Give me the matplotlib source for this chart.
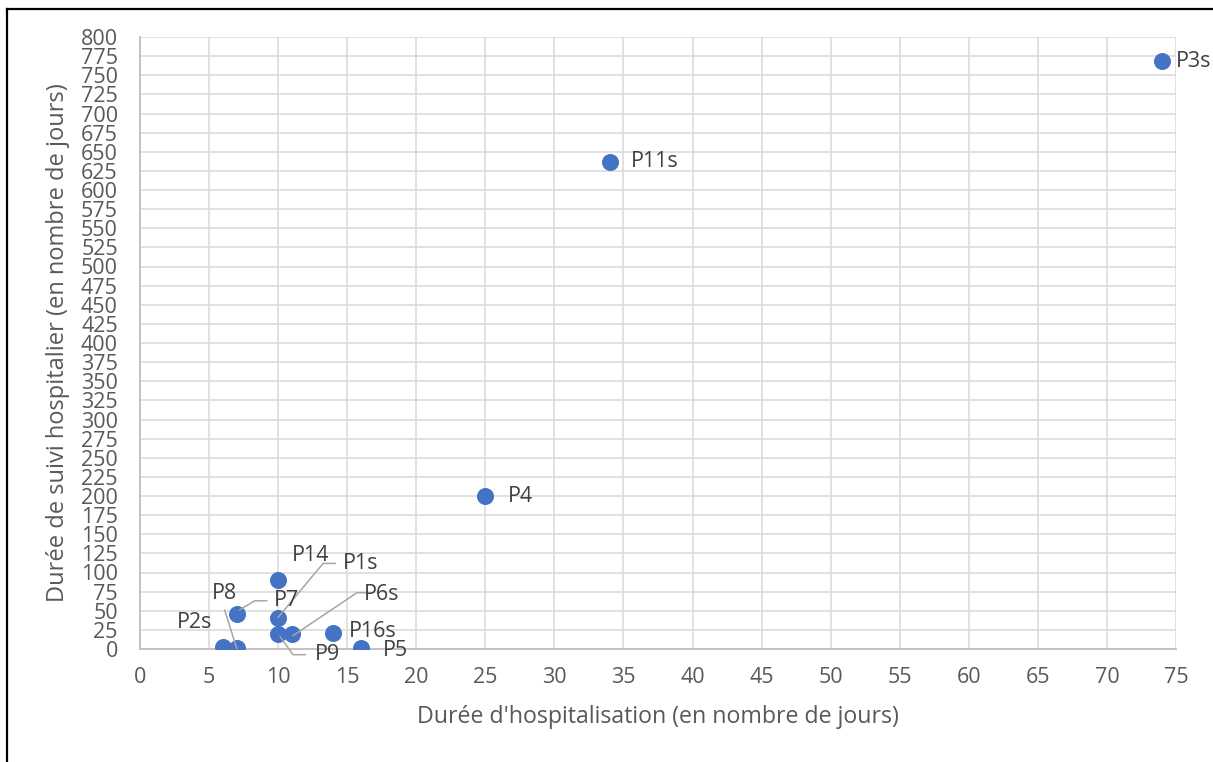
import numpy as np
import matplotlib.pyplot as plt
from matplotlib.transforms import IdentityTransform

plt.rcParams['font.family'] = ['Open Sans', 'DejaVu Sans']

# patients: hospital stay (days) vs follow-up duration (days)
patients = ['P3s', 'P11s', 'P4', 'P14', 'P1s', 'P7', 'P8', 'P2s',
            'P6s', 'P9', 'P16s', 'P5']
stay_days = [74, 34, 25, 10, 10, 7, 7, 6, 11, 10, 14, 16]
followup_days = [768, 637, 200, 90, 40, 46, 1, 3, 20, 20, 21, 1]

# label placement, pixel offsets from the point (x right, y up)
label_offsets = {
    'P3s': (31, 0), 'P11s': (45, 0), 'P4': (35, 0), 'P14': (32, 25),
    'P1s': (82, 55), 'P7': (50, 13), 'P8': (-12, 55), 'P2s': (-28, 24),
    'P6s': (90, 39), 'P9': (49, -21), 'P16s': (39, 1), 'P5': (34, -2),
}
# leader lines for crowded labels, same pixel offsets
leaders = {
    'P8': [(-12, 38), (0, 0)],
    'P7': [(30, 13), (18, 13), (3, 4)],
    'P1s': [(57, 55), (45, 55), (0, 1)],
    'P6s': [(75, 41), (65, 41), (1, -2)],
    'P9': [(27, -21), (15, -21), (2, -3)],
}

W, H = 1213, 762
fig = plt.figure(figsize=(W / 100, H / 100), dpi=100)
ax = fig.add_axes([140 / W, 1 - 649 / H, 1036 / W, 612 / H])

grid_c = '#d9d9d9'
text_c = '#595959'
blue = '#4472C4'

ax.scatter(stay_days, followup_days, s=150, color=blue, zorder=3,
           linewidths=0)

ax.set_xlim(0, 75)
ax.set_ylim(0, 800)
ax.set_xticks(np.arange(0, 76, 5))
ax.set_yticks(np.arange(0, 801, 25))
ax.grid(True, color=grid_c, linewidth=1.1)
ax.set_axisbelow(True)
for side in ['top', 'right']:
    ax.spines[side].set_visible(False)
for side in ['left', 'bottom']:
    ax.spines[side].set_color('#bfbfbf')
    ax.spines[side].set_linewidth(1.3)
ax.tick_params(length=0, labelsize=15.5, colors=text_c)
ax.tick_params(axis='y', pad=16)
ax.tick_params(axis='x', pad=13)

ax.set_xlabel("Durée d'hospitalisation (en nombre de jours)", fontsize=16.7,
              color=text_c, labelpad=12)
ax.set_ylabel("Durée de suivi hospitalier (en nombre de jours)", fontsize=17,
              color=text_c, labelpad=8)

fig.canvas.draw()
for name, x, y in zip(patients, stay_days, followup_days):
    px, py = ax.transData.transform((x, y))
    dx, dy = label_offsets[name]
    ax.text(px + dx, py + dy, name, transform=IdentityTransform(),
            ha='center', va='center', fontsize=15.5, color='#404040',
            zorder=5)
    if name in leaders:
        pts = np.array(leaders[name], dtype=float)
        ax.plot(px + pts[:, 0], py + pts[:, 1], color='#a6a6a6',
                linewidth=1.1, transform=IdentityTransform(), zorder=4,
                clip_on=False)

# chart frame
fig.add_artist(plt.Line2D([7 / W, 7 / W], [0, 1 - 9 / H], color='black',
                          linewidth=1.6, transform=fig.transFigure))
fig.add_artist(plt.Line2D([7 / W, 1], [1 - 9 / H, 1 - 9 / H], color='black',
                          linewidth=1.6, transform=fig.transFigure))

fig.savefig('out.png', dpi=100)
